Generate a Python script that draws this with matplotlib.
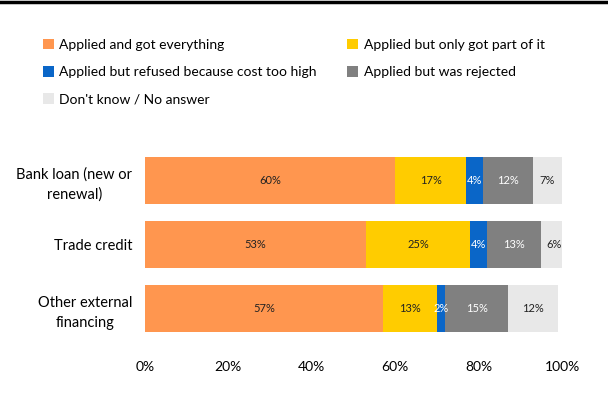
import matplotlib.pyplot as plt
from matplotlib.patches import Patch
from matplotlib.lines import Line2D

plt.rcParams['font.family'] = ['Lato', 'DejaVu Sans']

categorias = ['Bank loan (new or\nrenewal)', 'Trade credit', 'Other external\nfinancing']
series = ['Applied and got everything', 'Applied but only got part of it',
          'Applied but refused because cost too high', 'Applied but was rejected',
          "Don't know / No answer"]
got_everything = [60, 53, 57]
got_part = [17, 25, 13]
refused_cost = [4, 4, 2]
rejected = [12, 13, 15]
dont_know = [7, 6, 12]
ticks_x = [0, 20, 40, 60, 80, 100]

valores = [got_everything, got_part, refused_cost, rejected, dont_know]
colores = ['#FF964F', '#FFCC00', '#0A66C8', '#808080', '#E8E8E8']
color_texto = ['#222222', '#222222', 'white', 'white', '#222222']

fig = plt.figure(figsize=(6.08, 3.94), dpi=100)
ax = fig.add_axes([145 / 608, 1 - 340.5 / 394, 417 / 608, 192.5 / 394])

y = range(len(categorias))
izquierda = [0] * len(categorias)
for vals, col, tc in zip(valores, colores, color_texto):
    barras = ax.barh(y, vals, left=izquierda, height=0.73, color=col, edgecolor='none')
    for b, v in zip(barras, vals):
        ax.text(b.get_x() + b.get_width() / 2, b.get_y() + b.get_height() / 2,
                f'{v}%', ha='center', va='center', fontsize=8, color=tc)
    izquierda = [a + v for a, v in zip(izquierda, vals)]

ax.set_xlim(0, 100)
ax.set_ylim(2.5, -0.5)
ax.set_xticks(ticks_x)
ax.set_xticklabels([f'{t}%' for t in ticks_x], fontsize=10)
ax.set_yticks(list(y))
ax.set_yticklabels(categorias, fontsize=10.5, multialignment='center', linespacing=1.55)
ax.tick_params(axis='x', length=0, pad=15)
ax.tick_params(axis='y', length=0, pad=9)
for s in ax.spines.values():
    s.set_visible(False)

# leyenda: el orden se rellena por columnas
orden = [0, 2, 4, 1, 3]
handles = [Patch(facecolor=colores[i], edgecolor='none') for i in orden]
labels = [series[i] for i in orden]
fig.legend(handles, labels, loc='upper left', bbox_to_anchor=(30 / 608, 1 - 26 / 394),
           ncol=2, frameon=False, fontsize=10, handlelength=0.8, handleheight=0.8,
           handletextpad=0.4, labelspacing=1.1, columnspacing=2.2)

# linea negra superior
fig.add_artist(Line2D([0, 1], [1 - 1.5 / 394, 1 - 1.5 / 394], color='black', linewidth=2.5))

fig.savefig('out.png', dpi=100)
